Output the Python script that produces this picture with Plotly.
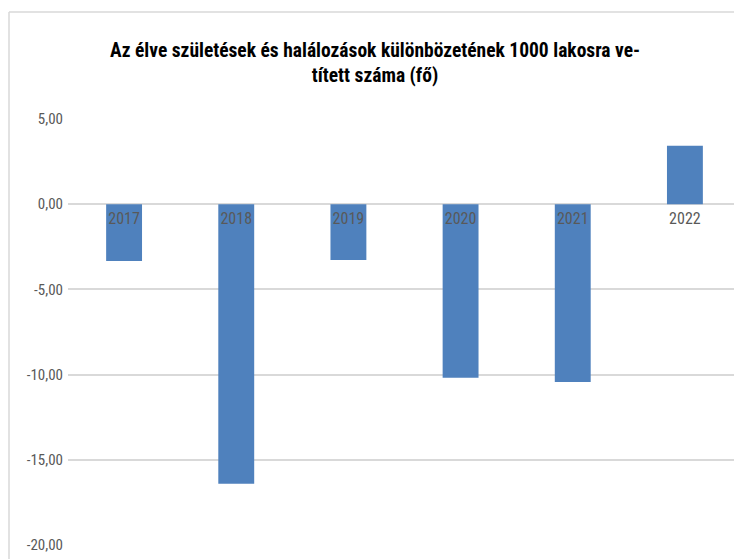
import plotly.graph_objects as go

years = ["2017", "2018", "2019", "2020", "2021", "2022"]
values = [-3.33, -16.41, -3.28, -10.19, -10.43, 3.43]
y_tickvals = [5, 0, -5, -10, -15, -20]
y_ticktext = ["5,00", "0,00", "-5,00", "-10,00", "-15,00", "-20,00"]
title_text = "Az élve születések és halálozások különbözetének 1000 lakosra ve-<br>tített száma (fő)"

# page has 8px body margin; compensate
OFF = 8
W, H = 742 - OFF, 559 - OFF
L, R, T, B = 68 - OFF, 1, 119 - OFF, 14
FONT = "Liberation Sans Narrow, Roboto Condensed, Arial Narrow, Liberation Sans, sans-serif"

fig = go.Figure(go.Bar(x=years, y=values, marker=dict(color="#4F81BD", line=dict(width=0))))

pw = W - L - R
ph = H - T - B
left_x = (9 - OFF - L) / pw
top_y = 1 + (T - (12 - OFF)) / ph

fig.update_layout(
    width=W, height=H,
    margin=dict(l=L, r=R, t=T, b=B, pad=0),
    paper_bgcolor="white", plot_bgcolor="white",
    bargap=0.68,
    showlegend=False,
    font=dict(family=FONT, color="#595959", size=15),
    title=dict(text=title_text, x=0.5, xanchor="center", xref="container",
               y=1 - 49 / H, yanchor="top", yref="container",
               font=dict(family=FONT, size=19.5, color="black", weight="bold")),
    xaxis=dict(type="category", anchor="free", position=0.8, showline=False,
               showgrid=False, ticks="", tickfont=dict(size=16, color="#595959"),
               ticklabelstandoff=3, range=[-0.5, 5.5]),
    yaxis=dict(range=[-20, 5], tickvals=y_tickvals, ticktext=y_ticktext,
               showgrid=True, gridcolor="#D9D9D9", gridwidth=1.5, zeroline=False,
               showline=False, ticks="", ticklabelstandoff=4,
               tickfont=dict(size=15, color="#595959")),
    shapes=[
        dict(type="line", xref="paper", yref="paper", x0=left_x, x1=left_x, y0=-0.2, y1=top_y,
             line=dict(color="#D9D9D9", width=1.5)),
        dict(type="line", xref="paper", yref="paper", x0=left_x, x1=1.2, y0=top_y, y1=top_y,
             line=dict(color="#D9D9D9", width=1.5)),
    ],
)

fig.write_html("out.html")
